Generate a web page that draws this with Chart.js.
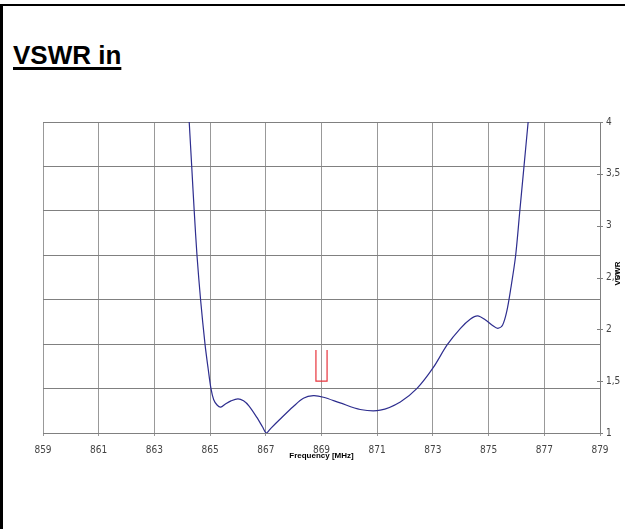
<!DOCTYPE html>
<html><head><meta charset="utf-8">
<script src="https://cdn.jsdelivr.net/npm/chart.js@4"></script>
<style>
html,body{margin:0;padding:0;background:#fff;width:625px;height:529px;overflow:hidden;position:relative}
#c{position:absolute;left:0;top:0}
.bt{position:absolute;left:0;top:4px;width:625px;height:2px;background:#000}
.bl{position:absolute;left:0;top:4px;width:3px;height:525px;background:#000}
#title{position:absolute;left:13px;top:42px;font:bold 26px/26px "Liberation Sans",Arial,sans-serif;text-decoration:underline;text-decoration-thickness:3px;text-underline-offset:3px;white-space:nowrap;color:#000}
</style></head><body>
<div class="bt"></div><div class="bl"></div>
<div id="title">VSWR in</div>
<canvas id="c" width="625" height="529"></canvas>
<script>
const freq = [864.25,864.34,864.43,864.53,864.66,864.82,864.93,865.03,865.13,865.25,865.38,865.55,865.75,866.00,866.20,866.40,866.68,866.88,867.02,867.18,867.50,867.99,868.35,868.71,869.07,869.67,870.39,871.11,871.83,872.43,873.01,873.51,873.99,874.35,874.61,874.89,875.13,875.33,875.50,875.65,875.80,875.97,876.12,876.27,876.42];
const vswr = [4.00,3.57,3.14,2.71,2.28,1.85,1.62,1.43,1.32,1.27,1.25,1.28,1.31,1.33,1.31,1.26,1.15,1.06,1.00,1.045,1.13,1.255,1.335,1.36,1.345,1.29,1.227,1.22,1.30,1.43,1.63,1.85,2.01,2.10,2.13,2.09,2.04,2.01,2.04,2.17,2.40,2.71,3.14,3.57,4.00];
const maskFreq = [868.8, 868.8, 869.2, 869.2];
const maskVswr = [1.8, 1.5, 1.5, 1.8];
const xTicks = [859,861,863,865,867,869,871,873,875,877,879];
const yTicks = [1,1.5,2,2.5,3,3.5,4];
const yGrid = [1,1.4286,1.8571,2.2857,2.7143,3.1429,3.5714,4];
const xTitle = 'Frequency [MHz]';
const yTitle = 'VSWR';

const tickFont = {family:'"Liberation Sans Narrow","DejaVu Sans Condensed","Arial Narrow",sans-serif', size:10};

const decor = {
  id:'decor',
  afterDraw(chart){
    const {ctx, chartArea:a, scales} = chart;
    const y = scales.y;
    ctx.save();
    ctx.strokeStyle = '#808080'; ctx.lineWidth = 1;
    yTicks.forEach(v => {
      const py = Math.round(y.getPixelForValue(v)) + 0.5;
      ctx.beginPath(); ctx.moveTo(a.right - 3, py); ctx.lineTo(a.right + 3, py); ctx.stroke();
    });
    ctx.fillStyle = '#000';
    ctx.font = 'bold 8px "Liberation Sans", Arial, sans-serif';
    ctx.textAlign = 'center'; ctx.textBaseline = 'middle';
    ctx.fillText(xTitle, (a.left + a.right) / 2, a.bottom + 23);
    ctx.translate(a.right + 18, (a.top + a.bottom) / 2 - 4);
    ctx.rotate(-Math.PI / 2);
    ctx.fillText(yTitle, 0, 0);
    ctx.restore();
  }
};

new Chart(document.getElementById('c'), {
  type:'line',
  data:{datasets:[
    {data:freq.map((f,i)=>({x:f,y:vswr[i]})), borderColor:'#2e2e8f', borderWidth:1.2, pointRadius:0, tension:0.3, fill:false},
    {data:maskFreq.map((f,i)=>({x:f,y:maskVswr[i]})), borderColor:'#e8343c', borderWidth:1.2, pointRadius:0, tension:0, fill:false}
  ]},
  options:{
    responsive:false, animation:false,
    layout:{padding:{left:43, top:122, right:0, bottom:66}},
    plugins:{legend:{display:false}, tooltip:{enabled:false}},
    scales:{
      x:{type:'linear', min:859, max:879,
        afterBuildTicks(s){ s.ticks = xTicks.map(v=>({value:v})); },
        afterFit(s){ s.height = 30; },
        grid:{color:'#999', lineWidth:1, tickLength:3},
        border:{color:'#808080'},
        ticks:{autoSkip:false, maxRotation:0, padding:8, color:'#444', font:tickFont}
      },
      y:{type:'linear', position:'right', min:1, max:4,
        afterBuildTicks(s){ s.ticks = yTicks.map(v=>({value:v})); },
        afterFit(s){ s.width = 25; },
        grid:{drawOnChartArea:false, drawTicks:false},
        border:{color:'#808080'},
        ticks:{padding:6, color:'#444', font:tickFont, callback:v=>String(v).replace('.',',')}
      },
      yg:{type:'linear', position:'left', min:1, max:4,
        afterBuildTicks(s){ s.ticks = yGrid.map(v=>({value:v})); },
        afterFit(s){ s.width = 0; },
        grid:{color:'#808080', drawTicks:false},
        border:{display:false},
        ticks:{display:false}
      }
    }
  },
  plugins:[decor]
});
</script>
</body></html>
